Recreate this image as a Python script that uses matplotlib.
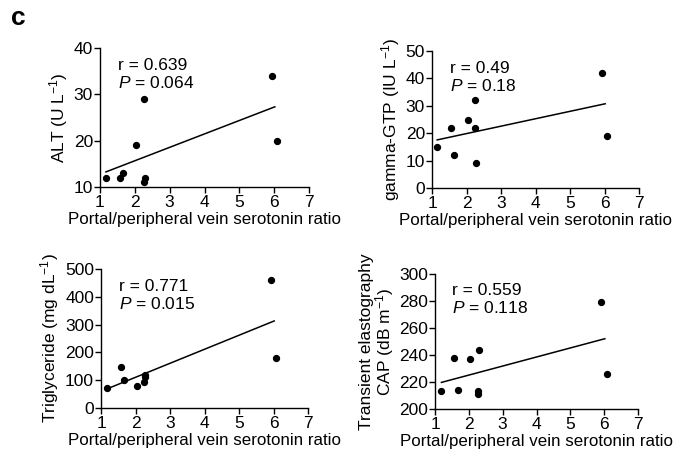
import matplotlib
matplotlib.use("Agg")
import matplotlib.pyplot as plt
import numpy as np

plt.rcParams['font.family'] = ['Liberation Sans', 'DejaVu Sans']
plt.rcParams['mathtext.fontset'] = 'custom'
plt.rcParams['mathtext.it'] = 'Liberation Sans:italic'
plt.rcParams['mathtext.rm'] = 'Liberation Sans'

# data
alt_x = [1.17, 1.56, 1.67, 2.04, 2.26, 2.28, 2.26, 5.93, 6.09]
alt_y = [12, 12, 13, 19, 29, 12, 11, 34, 20]

ggt_x = [1.15, 1.55, 1.64, 2.03, 2.24, 2.24, 2.28, 5.92, 6.07]
ggt_y = [15, 22, 12, 25, 32, 22, 9, 42, 19]

tg_x = [1.17, 1.58, 1.67, 2.04, 2.25, 2.28, 2.27, 5.92, 6.07]
tg_y = [72, 146, 101, 78, 95, 117, 110, 460, 180]

cap_x = [1.19, 1.57, 1.67, 2.04, 2.31, 2.27, 2.27, 5.91, 6.07]
cap_y = [213, 238, 214, 237, 244, 213, 211, 279, 226]

stats = [('0.639', '0.064'), ('0.49', '0.18'), ('0.771', '0.015'), ('0.559', '0.118')]
ylabels = ['ALT (U L$^{-1}$)', 'gamma-GTP (IU L$^{-1}$)',
           'Triglyceride (mg dL$^{-1}$)', 'Transient elastography\nCAP (dB m$^{-1}$)']
ylims = [(10, 40), (0, 50), (0, 500), (200, 300)]
yticks = [np.arange(10, 41, 10), np.arange(0, 51, 10),
          np.arange(0, 501, 100), np.arange(200, 301, 20)]
xs = [alt_x, ggt_x, tg_x, cap_x]
ys = [alt_y, ggt_y, tg_y, cap_y]

W, H = 676, 451
fig = plt.figure(figsize=(W / 100, H / 100), dpi=100)

# axes boxes in pixels: left, right, top, bottom
boxes = [(100, 309, 48, 187), (432, 639, 51, 188),
         (101, 308, 269, 408), (435, 638, 274, 409)]
pads = [3, 3, 3, 2]
fs = 12.5

for i in range(4):
    l, r, t, b = boxes[i]
    ax = fig.add_axes([l / W, 1 - b / H, (r - l) / W, (b - t) / H])
    x = np.array(xs[i])
    y = np.array(ys[i])
    ax.scatter(x, y, s=18, color='black', zorder=3, clip_on=False)
    k, c = np.polyfit(x, y, 1)
    xl = np.array([x.min(), 6.02])
    ax.plot(xl, k * xl + c, color='black', lw=1.1)
    ax.set_xlim(1, 7)
    ax.set_ylim(*ylims[i])
    ax.set_xticks(range(1, 8))
    ax.set_yticks(yticks[i])
    ax.spines['top'].set_visible(False)
    ax.spines['right'].set_visible(False)
    for s in ['left', 'bottom']:
        ax.spines[s].set_linewidth(1.0)
    ax.tick_params(direction='out', length=4, width=1.0, labelsize=fs)
    ax.tick_params(axis='x', pad=2)
    ax.tick_params(axis='y', pad=1)
    ax.set_xlabel('Portal/peripheral vein serotonin ratio', fontsize=12.2, labelpad=1)
    ax.set_ylabel(ylabels[i], fontsize=fs, labelpad=pads[i], linespacing=1.0)
    ax.text(0.085, 0.875, 'r = ' + stats[i][0], transform=ax.transAxes,
            fontsize=fs, va='center', ha='left')
    ax.text(0.085, 0.745, '$P$ = ' + stats[i][1], transform=ax.transAxes,
            fontsize=fs, va='center', ha='left')

fig.text(11 / W, 1 - 18 / H, 'c', fontsize=19, fontweight='bold', va='center', ha='left')

fig.savefig('out.png', dpi=100)
